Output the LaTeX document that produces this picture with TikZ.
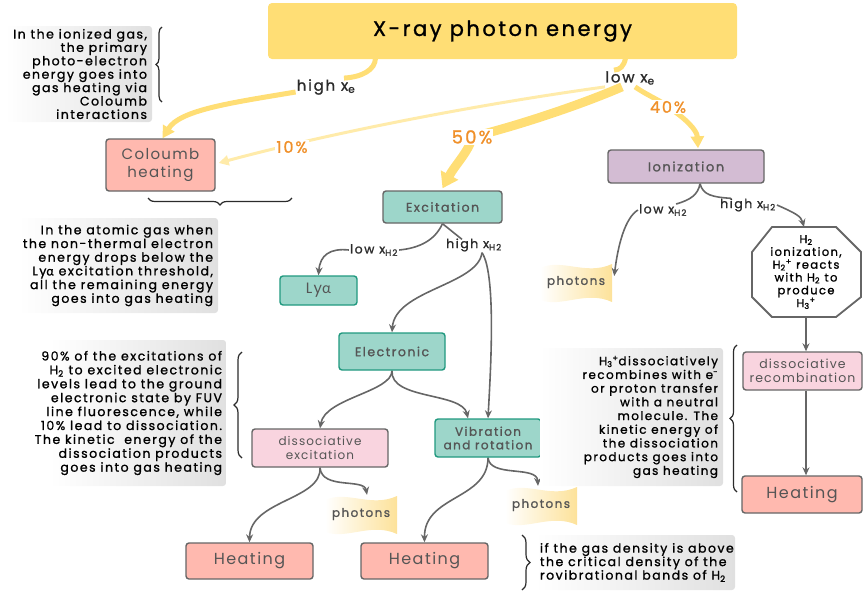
\documentclass[tikz,border=0pt]{standalone}
\usepackage{fontspec}
\setmainfont{Poppins}[LetterSpace=9]
\newfontfamily\tbf{Poppins}[LetterSpace=12, FakeBold=1.2]
\newfontfamily\grk{Lato}[LetterSpace=9]
\newfontfamily\grkb{Lato}[LetterSpace=12, FakeBold=1.2]
\usetikzlibrary{arrows.meta,decorations.pathreplacing,calc}
\definecolor{ttlc}{HTML}{FFDE75}
\definecolor{lyel}{HTML}{FFEBAA}
\definecolor{orng}{HTML}{F0902A}
\definecolor{tealf}{HTML}{9DD6CA}
\definecolor{tealb}{HTML}{21997F}
\definecolor{salm}{HTML}{FFB9AF}
\definecolor{pinkf}{HTML}{F9D4DF}
\definecolor{lilac}{HTML}{D3BCD3}
\definecolor{bord}{HTML}{666666}
\definecolor{txtg}{HTML}{555555}
\definecolor{txtd}{HTML}{2B2B2B}
\definecolor{boxg}{HTML}{E0E0E0}
\definecolor{flagy}{HTML}{FDE29A}
\pgfdeclarelayer{bg}
\pgfsetlayers{bg,main}
\newcommand\flagshape[1]{\shade[left color=white, right color=flagy, shift={(#1)}]
  (-36,-14) .. controls (-14,-24) and (10,-6) .. (36,-18) -- (36,20)
  .. controls (10,8) and (-14,26) .. (-36,18) -- cycle;}
\begin{document}
\begin{tikzpicture}[x=1pt,y=-1pt,
  box/.style={rounded corners=3pt, line width=1.4pt, inner sep=0pt, align=center, text=txtg},
  graybox/.style={box, draw=bord},
  tealbox/.style={box, draw=tealb, fill=tealf},
  lab/.style={font=\tbf\fontsize{15}{17}\selectfont, text=txtd, inner sep=1pt},
  slab/.style={font=\tbf\fontsize{12.5}{14}\selectfont, text=txtd, inner sep=1pt},
  pct/.style={font=\tbf\fontsize{16}{18}\selectfont, text=orng, fill=white, inner sep=1pt},
  tboxbg/.style={left color=white, right color=boxg, rounded corners=3pt, inner sep=0pt},
  ttext/.style={font=\tbf\fontsize{12.5}{13.7}\selectfont, text=black, align=right, anchor=east, inner sep=0pt},
  phot/.style={font=\tbf\fontsize{12}{13}\selectfont, text=txtg, minimum width=72, minimum height=38, inner sep=0pt},
  garrow/.style={draw=bord, line width=1.6pt, -{Stealth[length=8pt,width=7pt]}},
  gline/.style={draw=bord, line width=1.6pt},
  brc/.style={draw=txtd, line width=1.2pt, decorate},
]
\useasboundingbox (0,0) rectangle (864,592);

% main nodes
\node[fill=ttlc, rounded corners=4pt, minimum width=469, minimum height=56, inner sep=0pt,
  font=\tbf\fontsize{21}{24}\selectfont, text=black] (ttl) at (502.5,31) {X-ray photon energy};
\node[graybox, fill=salm, minimum width=109, minimum height=52, font=\fontsize{15}{18}\selectfont] (coul) at (160.5,165) {Coloumb\\heating};
\node[tealbox, draw=bord, minimum width=119, minimum height=32, font=\tbf\fontsize{12.5}{14}\selectfont] (exc) at (442.5,207) {Excitation};
\node[tealbox, minimum width=77, minimum height=29, font=\fontsize{15}{17}\selectfont] (lya) at (318.5,290.5) {Ly{\grk α}};
\node[tealbox, minimum width=106, minimum height=37, font=\tbf\fontsize{12.5}{14}\selectfont] (elec) at (392,351.5) {Electronic};
\node[graybox, fill=pinkf, minimum width=136, minimum height=38, font=\fontsize{12}{13.5}\selectfont] (dexc) at (320,448) {dissociative\\excitation};
\node[tealbox, minimum width=106, minimum height=38, font=\tbf\fontsize{12}{13.5}\selectfont] (vib) at (488,438) {Vibration\\and rotation};
\node[graybox, fill=salm, minimum width=127, minimum height=36, font=\fontsize{16}{18}\selectfont] (heat1) at (249.5,561) {Heating};
\node[graybox, fill=salm, minimum width=127, minimum height=36, font=\fontsize{16}{18}\selectfont] (heat2) at (424.5,561) {Heating};
\node[graybox, fill=lilac, minimum width=156, minimum height=33, font=\tbf\fontsize{13}{15}\selectfont] (ion) at (686,166.5) {Ionization};
\node[graybox, fill=pinkf, minimum width=119, minimum height=38, font=\fontsize{12.5}{13.5}\selectfont] (drec) at (802.5,371) {dissociative\\recombination};
\node[graybox, fill=salm, minimum width=120, minimum height=37, font=\fontsize{16}{18}\selectfont] (heat3) at (802,494.5) {Heating};

% octagon
\coordinate (octN) at (804,227);
\coordinate (octS) at (806,317);
\draw[draw=bord, line width=1.8pt, fill=white] (772,227) -- (836,227) -- (861,252) -- (861,297) -- (836,317) -- (772,317) -- (752,297) -- (752,252) -- cycle;
\node[align=center, font=\tbf\fontsize{11.5}{12.8}\selectfont, text=black, inner sep=0pt] (octt) at (806,272)
  {H\textsubscript{2}\\ionization,\\H\textsubscript{2}\textsuperscript{+} reacts\\with H\textsubscript{2} to\\produce\\H\textsubscript{3}\textsuperscript{+}};

% photons
\node[phot] (ph1) at (361,514) {photons};
\node[phot] (ph2) at (541,505) {photons};
\node[phot] (ph3) at (576,282) {photons};

% labels
\node[lab] (hixe) at (326,87) {high x\textsubscript{e}};
\node[lab] (loxe) at (630,78) {low x\textsubscript{e}};
\node[slab] (lxh2a) at (374,250) {low x\textsubscript{H2}};
\node[slab] (hxh2a) at (474,245) {high x\textsubscript{H2}};
\node[slab] (lxh2b) at (663,210) {low x\textsubscript{H2}};
\node[slab] (hxh2b) at (748,205) {high x\textsubscript{H2}};
\node[pct] (p10) at (292,147) {10\%};
\node[pct, font=\tbf\fontsize{18}{20}\selectfont] (p50) at (472,137) {50\%};
\node[pct] (p40) at (668,107) {40\%};

% text boxes
\node[tboxbg, minimum width=147, minimum height=96] (t1bg) at (78.5,74) {};
\node[ttext, font=\tbf\fontsize{12.5}{13.4}\selectfont] (t1) at ($(t1bg.east)+(-5,0)$)
 {In the ionized gas,\\the primary\\photo-electron\\energy goes into\\gas heating via\\Coloumb\\interactions};
\node[tboxbg, minimum width=200, minimum height=95] (t2bg) at (118,265.5) {};
\node[ttext] (t2) at ($(t2bg.east)+(-5,0)$)
 {In the atomic gas when\\the non-thermal electron\\energy drops below the\\Ly{\grkb α} excitation threshold,\\all the remaining energy\\goes into gas heating};
\node[tboxbg, minimum width=176, minimum height=146] (t3bg) at (138,413) {};
\node[ttext, font=\tbf\fontsize{12.5}{13.9}\selectfont] (t3) at ($(t3bg.east)+(-4,0)$)
 {90\% of the excitations of\\H\textsubscript{2} to excited electronic\\levels lead to the ground\\electronic state by FUV\\line fluorescence, while\\10\% lead to dissociation.\\The kinetic\ \ energy of the\\dissociation products\\goes into gas heating};
\node[tboxbg, minimum width=183, minimum height=138] (t4bg) at (631.5,417) {};
\node[ttext, font=\tbf\fontsize{12}{13.7}\selectfont] (t4) at ($(t4bg.east)+(-5,0)$)
 {H\textsubscript{3}\textsuperscript{+}dissociatively\\recombines with e\textsuperscript{-}\\or proton transfer\\with a neutral\\molecule. The\\kinetic energy of\\the dissociation\\products goes into\\gas heating};
\node[tboxbg, minimum width=200, minimum height=55] (t5bg) at (635,562.5) {};
\node[ttext, align=left, anchor=west, font=\tbf\fontsize{12.5}{13.5}\selectfont] (t5) at ($(t5bg.west)+(5,0)$)
 {if the gas density is above\\the critical density of the\\rovibrational bands of H\textsubscript{2}};

% braces
\draw[brc, decoration={brace, amplitude=6pt}] (162,102) -- (162,27);
\draw[brc, decoration={brace, amplitude=7pt}] (292,198) -- (148,198);
\draw[brc, decoration={brace, amplitude=8pt}] (242,458) -- (242,352);
\draw[brc, decoration={brace, amplitude=7pt}] (737,492) -- (737,345);
\draw[brc, decoration={brace, amplitude=8pt}] (522,535) -- (522,590);

\begin{pgfonlayer}{bg}
\flagshape{ph1.center}
\flagshape{ph2.center}
\flagshape{ph3.center}
% yellow flows
\draw[ttlc, line width=5pt] ($(ttl.south)+(-127,-1)$) .. controls (375,70) and (362,77) .. ($(hixe.north)+(18,0)$);
\draw[ttlc, line width=5pt, -{Triangle[length=12pt,width=13pt]}] ($(hixe.west)+(0,5)$) .. controls (230,103) and (180,110) .. ($(coul.north)+(2,0)$);
\draw[ttlc, line width=5pt] ($(ttl.south)+(123,-1)$) .. controls (624,66) and (620,70) .. ($(loxe.north)+(-16,0)$);
\draw[lyel, line width=3pt, -{Triangle[length=10pt,width=10pt]}] ($(loxe.south)+(-25,1)$) .. controls (480,104) and (330,133) .. ($(coul.east)+(3,-2)$);
\draw[ttlc, line width=9pt, -{Triangle[length=15pt,width=19pt]}] ($(loxe.south)+(-8,1)$) .. controls (580,105) and (520,125) .. (p50.center)
   .. controls (470,150) and (455,165) .. ($(exc.north)+(0,-2)$);
\draw[ttlc, line width=5pt, -{Triangle[length=12pt,width=13pt]}] ($(loxe.south)+(5,1)$) .. controls (650,97) and (660,100) .. (p40.center)
   .. controls (685,118) and (697,130) .. ($(ion.north)+(12,-1)$);
% gray connectors
\draw[gline] (exc.south) .. controls (435,240) and (420,248) .. (lxh2a.east);
\draw[garrow] (lxh2a.west) .. controls (330,248) and (320,255) .. (lya.north);
\draw[gline] (exc.south) -- ($(hxh2a.north)+(-12,2)$);
\draw[garrow] ($(hxh2a.south)+(8,0)$) .. controls (478,285) and (395,290) .. (elec.north);
\draw[garrow] ($(hxh2a.south)+(8,0)$) .. controls (497,275) and (490,380) .. (vib.north);
\draw[garrow] (elec.south) .. controls (392,392) and (325,398) .. (dexc.north);
\draw[garrow] (elec.south) .. controls (390,400) and (462,392) .. ($(vib.north)+(-20,0)$);
\draw[garrow] (dexc.south) .. controls (322,500) and (250,500) .. (heat1.north);
\draw[garrow] (dexc.south) .. controls (322,490) and (364,478) .. ($(ph1.north)+(6,0)$);
\draw[garrow] (vib.south) .. controls (488,500) and (424,495) .. (heat2.north);
\draw[garrow] (vib.south) .. controls (490,478) and (537,465) .. ($(ph2.north)+(-3,0)$);
\draw[gline] ($(ion.south)+(14,0)$) .. controls (698,195) and (690,200) .. ($(lxh2b.north east)+(-12,1)$);
\draw[gline] ($(ion.south)+(14,0)$) .. controls (703,195) and (712,197) .. ($(hxh2b.north west)+(12,1)$);
\draw[garrow] (lxh2b.west) .. controls (625,218) and (618,245) .. ($(ph3.east)+(2,-6)$);
\draw[garrow] (hxh2b.east) .. controls (795,213) and (801,216) .. (octN);
\draw[garrow] (octS) -- (octS |- drec.north);
\draw[garrow] (drec.south -| octS) -- (heat3.north -| octS);
\end{pgfonlayer}
\end{tikzpicture}
\end{document}
